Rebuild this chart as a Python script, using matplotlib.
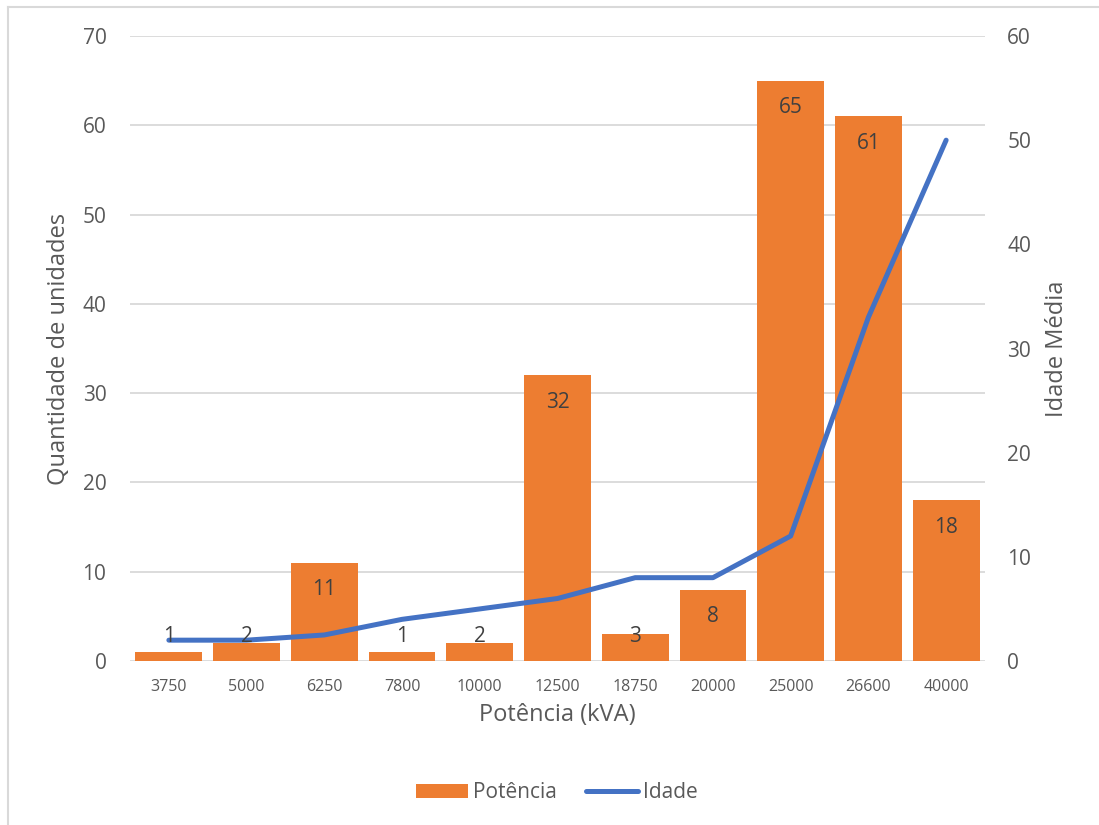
import matplotlib
matplotlib.use("Agg")
import matplotlib.pyplot as plt
from matplotlib.patches import Patch
from matplotlib.lines import Line2D

plt.rcParams['font.family'] = ['Open Sans', 'DejaVu Sans']

# Power ratings (kVA), number of units and mean age per rating
potencia_kva = ["3750", "5000", "6250", "7800", "10000", "12500",
                "18750", "20000", "25000", "26600", "40000"]
quantidade = [1, 2, 11, 1, 2, 32, 3, 8, 65, 61, 18]
idade_media = [2, 2, 2.5, 4, 5, 6, 8, 8, 12, 33, 50]

BAR_COLOR = "#ED7D31"
LINE_COLOR = "#4472C4"
TEXT_COLOR = "#595959"
LABEL_COLOR = "#404040"
GRID_COLOR = "#D9D9D9"

W, H = 1099, 825
fig = plt.figure(figsize=(W / 100, H / 100), dpi=100)
ax = fig.add_axes([130 / W, 1 - 661 / H, (985 - 130) / W, (661 - 36) / H])
ax2 = ax.twinx()

x = list(range(len(potencia_kva)))
ax.bar(x, quantidade, width=0.86, color=BAR_COLOR, zorder=2)
ax2.plot(x, idade_media, color=LINE_COLOR, linewidth=3.6,
         solid_capstyle="round", solid_joinstyle="round", zorder=3)

ax.set_xlim(-0.5, len(x) - 0.5)
ax.set_ylim(0, 70)
ax.set_yticks(range(0, 71, 10))
ax2.set_ylim(0, 60)
ax2.set_yticks(range(0, 61, 10))

ax.set_xticks(x)
ax.set_xticklabels(potencia_kva)

ax.grid(axis="y", color=GRID_COLOR, linewidth=1.3, zorder=0)
ax.set_axisbelow(True)
for a in (ax, ax2):
    for s in a.spines.values():
        s.set_visible(False)
    a.tick_params(length=0, colors=TEXT_COLOR)

ax.tick_params(axis="y", labelsize=15, pad=17)
ax.tick_params(axis="x", labelsize=11.5, pad=13)
ax2.tick_params(axis="y", labelsize=15, pad=16)

ax.set_xlabel("Potência (kVA)", fontsize=17, color=TEXT_COLOR, labelpad=6)
ax.set_ylabel("Quantidade de unidades", fontsize=17, color=TEXT_COLOR, labelpad=8)
ax2.set_ylabel("Idade Média", fontsize=17, color=TEXT_COLOR, labelpad=10)

# Value labels just inside the top of each bar
for xi, v in zip(x, quantidade):
    ax2.text(xi, max(v - 3.0, 2.7), str(v), transform=ax.transData,
             ha="center", va="center", fontsize=15, color=LABEL_COLOR, zorder=5)

handles = [Patch(facecolor=BAR_COLOR, edgecolor="none"),
           Line2D([0], [0], color=LINE_COLOR, linewidth=3.6, solid_capstyle="round")]
fig.legend(handles, ["Potência", "Idade"], loc="center",
           bbox_to_anchor=(557 / W, 1 - 793 / H), ncol=2, frameon=False,
           fontsize=15, labelcolor=TEXT_COLOR, handlelength=2.5,
           handleheight=0.65, handletextpad=0.25, columnspacing=1.4)

# Chart frame
fig.add_artist(Line2D([8 / W, 8 / W], [0, 1 - 7 / H], transform=fig.transFigure,
                      color=GRID_COLOR, linewidth=1.5))
fig.add_artist(Line2D([8 / W, 1], [1 - 7 / H, 1 - 7 / H], transform=fig.transFigure,
                      color=GRID_COLOR, linewidth=1.5))

fig.savefig("out.png", dpi=100)
